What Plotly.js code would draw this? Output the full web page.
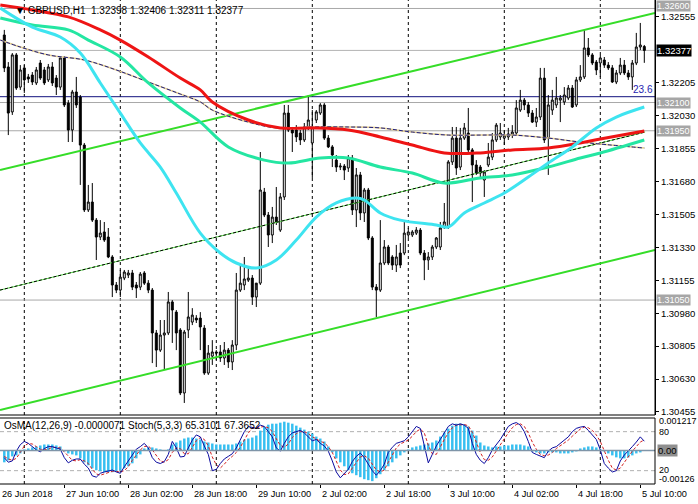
<!DOCTYPE html>
<html>
<head>
<meta charset="utf-8">
<script src="https://cdn.plot.ly/plotly-3.0.1.min.js"></script>
<style>html,body{margin:0;padding:0;background:#fff;}#chart{width:698px;height:504px;}</style>
</head>
<body>
<div id="chart"></div>
<script>
// ---- candle data (GBPUSD H1, bar 0 = 26 Jun 19:00 ... bar 160 = 5 Jul 11:00, weekend skipped)
const open = [1.32459,1.32289,1.32050,1.32353,1.32182,1.32284,1.32236,1.32246,1.32204,1.32310,
1.32273,1.32220,1.32289,1.32230,1.32182,1.32337,1.32097,1.31954,1.32156,1.32129,
1.31874,1.31529,1.31571,1.31475,1.31385,1.31412,1.31385,1.31279,1.31130,1.31103,
1.31167,1.31183,1.31194,1.31130,1.31119,1.31194,1.31140,1.31103,1.30875,1.30784,
1.30864,1.30875,1.31040,1.30986,1.30891,1.30556,1.30891,1.30933,1.30954,1.30954,
1.30901,1.30662,1.30752,1.30774,1.30774,1.30742,1.30784,1.30721,1.30811,1.31103,
1.31130,1.31156,1.31167,1.31066,1.31140,1.31624,1.31502,1.31396,1.31491,1.31422,
1.31598,1.32044,1.31954,1.31954,1.31938,1.31901,1.31970,1.31885,1.32007,1.32044,
1.32087,1.31911,1.31864,1.31794,1.31757,1.31762,1.31752,1.31805,1.31529,1.31715,
1.31513,1.31635,1.31380,1.31119,1.31103,1.31247,1.31332,1.31279,1.31236,1.31300,
1.31300,1.31396,1.31396,1.31406,1.31422,1.31300,1.31263,1.31279,1.31332,1.31332,
1.31438,1.31438,1.31784,1.31911,1.31757,1.31911,1.31938,1.31848,1.31768,1.31757,
1.31688,1.31768,1.31810,1.31901,1.31917,1.31911,1.31917,1.31927,1.31938,1.32060,
1.32113,1.32087,1.32044,1.31996,1.32023,1.32230,1.31911,1.32060,1.32087,1.32113,
1.32103,1.32124,1.32177,1.32087,1.32220,1.32236,1.32390,1.32353,1.32315,1.32310,
1.32326,1.32299,1.32284,1.32209,1.32257,1.32299,1.32257,1.32236,1.32310,1.32395,
1.32398];
const high = [1.32486,1.32315,1.32363,1.32363,1.32299,1.32299,1.32252,1.32262,1.32289,1.32326,
1.32289,1.32305,1.32315,1.32246,1.32347,1.32347,1.32113,1.32167,1.32236,1.32140,
1.31885,1.31662,1.31672,1.31486,1.31475,1.31465,1.31433,1.31289,1.31146,1.31210,
1.31210,1.31210,1.31210,1.31146,1.31199,1.31204,1.31156,1.31114,1.30891,1.30944,
1.30944,1.31093,1.31050,1.30997,1.30901,1.30891,1.31093,1.31007,1.30970,1.30986,
1.30917,1.30811,1.30837,1.30784,1.30811,1.30827,1.30795,1.30837,1.31194,1.31236,
1.31279,1.31220,1.31183,1.31103,1.31837,1.31646,1.31518,1.31545,1.31651,1.31619,
1.32087,1.32087,1.31970,1.31980,1.31954,1.31991,1.32140,1.32060,1.32060,1.32097,
1.32097,1.31927,1.31874,1.31821,1.31778,1.31773,1.31821,1.31821,1.31752,1.31731,
1.31646,1.31646,1.31390,1.31135,1.31475,1.31369,1.31343,1.31289,1.31343,1.31353,
1.31465,1.31433,1.31422,1.31438,1.31433,1.31316,1.31305,1.31343,1.31385,1.31465,
1.31566,1.31794,1.31970,1.31970,1.31965,1.31991,1.32071,1.31858,1.31794,1.31768,
1.31741,1.31885,1.31938,1.31991,1.31991,1.31954,1.31965,1.31980,1.32113,1.32167,
1.32124,1.32103,1.32060,1.32071,1.32284,1.32284,1.32140,1.32167,1.32236,1.32140,
1.32182,1.32193,1.32193,1.32236,1.32299,1.32486,1.32443,1.32363,1.32326,1.32353,
1.32342,1.32315,1.32299,1.32273,1.32337,1.32326,1.32273,1.32326,1.32470,1.32523,
1.32406];
const low = [1.32262,1.31927,1.32034,1.32167,1.32167,1.32151,1.32204,1.32193,1.32193,1.32220,
1.32193,1.32209,1.32188,1.32140,1.32167,1.32076,1.31890,1.31890,1.32071,1.31662,
1.31518,1.31518,1.31465,1.31263,1.31369,1.31359,1.31273,1.31066,1.31087,1.31066,
1.31156,1.31167,1.31103,1.31061,1.31103,1.31130,1.31087,1.30715,1.30694,1.30774,
1.30678,1.30864,1.30822,1.30784,1.30545,1.30503,1.30848,1.30917,1.30928,1.30784,
1.30652,1.30652,1.30705,1.30731,1.30721,1.30705,1.30689,1.30678,1.30784,1.31093,
1.31103,1.31146,1.31024,1.31013,1.31130,1.31491,1.31332,1.31353,1.31449,1.31412,
1.31582,1.31943,1.31837,1.31890,1.31874,1.31890,1.31954,1.31699,1.31991,1.32034,
1.31901,1.31858,1.31757,1.31731,1.31741,1.31688,1.31731,1.31502,1.31438,1.31475,
1.31465,1.31369,1.31103,1.30960,1.31093,1.31236,1.31236,1.31210,1.31199,1.31220,
1.31289,1.31380,1.31385,1.31396,1.31289,1.31156,1.31210,1.31263,1.31321,1.31316,
1.31428,1.31428,1.31768,1.31715,1.31741,1.31901,1.31837,1.31571,1.31715,1.31704,
1.31598,1.31757,1.31794,1.31890,1.31901,1.31874,1.31901,1.31911,1.31927,1.32050,
1.32060,1.32023,1.31991,1.31970,1.32007,1.31885,1.31715,1.32034,1.32071,1.31996,
1.32087,1.32113,1.32071,1.32076,1.32209,1.32225,1.32342,1.32299,1.32246,1.32236,
1.32284,1.32273,1.32204,1.32198,1.32246,1.32246,1.32220,1.32167,1.32299,1.32379,
1.32311];
const close = [1.32284,1.32044,1.32353,1.32177,1.32273,1.32220,1.32225,1.32209,1.32273,1.32230,
1.32204,1.32289,1.32204,1.32182,1.32337,1.32087,1.31954,1.32156,1.32087,1.31874,
1.31529,1.31571,1.31475,1.31385,1.31406,1.31369,1.31279,1.31130,1.31103,1.31172,
1.31199,1.31194,1.31119,1.31114,1.31188,1.31140,1.31103,1.30875,1.30784,1.30864,
1.30875,1.31040,1.30997,1.30875,1.30556,1.30880,1.30960,1.30970,1.30944,1.30907,
1.30662,1.30768,1.30774,1.30768,1.30742,1.30784,1.30721,1.30811,1.31103,1.31140,
1.31162,1.31167,1.31066,1.31140,1.31635,1.31502,1.31396,1.31491,1.31465,1.31598,
1.32044,1.31954,1.31938,1.31917,1.31901,1.31970,1.32007,1.31970,1.32050,1.32087,
1.31911,1.31864,1.31821,1.31757,1.31762,1.31741,1.31805,1.31529,1.31715,1.31513,
1.31635,1.31380,1.31119,1.31103,1.31247,1.31332,1.31247,1.31236,1.31279,1.31236,
1.31406,1.31412,1.31412,1.31422,1.31300,1.31263,1.31279,1.31332,1.31380,1.31433,
1.31465,1.31784,1.31911,1.31752,1.31911,1.31965,1.31848,1.31768,1.31725,1.31725,
1.31731,1.31810,1.31901,1.31980,1.31938,1.31927,1.31933,1.31943,1.32071,1.32113,
1.32087,1.32044,1.31996,1.32023,1.32230,1.31901,1.32087,1.32113,1.32124,1.32124,
1.32140,1.32177,1.32076,1.32220,1.32236,1.32390,1.32353,1.32310,1.32273,1.32337,
1.32299,1.32284,1.32209,1.32257,1.32299,1.32257,1.32236,1.32310,1.32395,1.32406,
1.32377];

// ---- moving averages read at sample bars
const maRedX   = [-1,7,16,24,29,36,44,49,52,61,69,77,86,94,102,110,119,127,136,144,149,160];
const maRedY   = [1.32618,1.32592,1.32555,1.32486,1.32432,1.32342,1.32230,1.32167,1.32103,1.32007,1.31965,1.31965,1.31954,1.31917,1.31874,1.31832,1.31832,1.31848,1.31858,1.31885,1.31906,1.31949];
const maGreenX = [-1,7,16,21,29,36,44,49,56,65,71,79,86,94,102,110,119,127,136,144,149,160];
const maGreenY = [1.32549,1.32512,1.32486,1.32432,1.32342,1.32204,1.32071,1.31996,1.31864,1.31794,1.31778,1.31805,1.31805,1.31757,1.31725,1.31672,1.31699,1.31715,1.31757,1.31805,1.31832,1.31901];
const maCyanX  = [-1,7,14,19,24,29,34,39,43,49,54,58,63,68,73,78,83,88,90,94,99,108,111,115,120,125,131,136,142,148,153,160];
const maCyanY  = [1.32602,1.32501,1.32448,1.32363,1.32204,1.32044,1.31885,1.31757,1.31619,1.31406,1.31300,1.31247,1.31220,1.31263,1.31369,1.31491,1.31566,1.31592,1.31582,1.31513,1.31475,1.31449,1.31438,1.31513,1.31566,1.31619,1.31704,1.31778,1.31864,1.31965,1.32023,1.32076];
const maSlowX  = [-1,4,11,20,28,36,44,49,52,61,68,77,86,94,102,111,119,127,136,144,160];
const maSlowY  = [1.32432,1.32395,1.32353,1.32326,1.32273,1.32209,1.32145,1.32103,1.32060,1.31996,1.31965,1.31970,1.31970,1.31965,1.31943,1.31927,1.31927,1.31927,1.31911,1.31890,1.31858];

// ---- channel lines (end points)
const chanX     = [-1.075, 162.675];
const chanUpper = [1.31741, 1.32576];
const chanLower = [1.30465, 1.31316];
const chanMidX  = [-1.075, 160.2];
const chanMid   = [1.31103, 1.31943];

// ---- horizontal levels
const grayLevels = [1.32600, 1.32100, 1.31950, 1.31050];
const fibLevel = 1.32131;
const lastPrice = 1.32377;

// ---- price axis ticks
const priceTicks = [1.30455,1.30630,1.30805,1.30980,1.31155,1.31330,1.31505,1.31680,1.31855,1.32030,1.32205,1.32555];

// ---- time axis
const dayStarts = [5,29,53,77,101,125,149];
const timeTickBars = [-1.075,15,31,47,63,79,95,111,127,143,159];
const timeTickText = ["26 Jun 2018","27 Jun 10:00","28 Jun 02:00","28 Jun 18:00","29 Jun 10:00","2 Jul 02:00","2 Jul 18:00","3 Jul 10:00","4 Jul 02:00","4 Jul 18:00","5 Jul 10:00"];

// ---- oscillators
const osma = [-0.000446,-0.000372,-0.000223,-0.000186,-0.000112,0.000037,0.000074,0.000112,0.000149,0.000186,
0.000223,0.000223,0.000223,0.000186,0.000149,-0.000037,-0.000112,-0.000149,-0.000186,-0.000298,
-0.000446,-0.000558,-0.00067,-0.000744,-0.000781,-0.000818,-0.000818,-0.000818,-0.000781,-0.000744,
-0.00067,-0.000595,-0.000484,-0.000298,-0.000149,0.000074,0.000112,0.000112,0.000074,0.000037,
0.000005,0.000037,0.000223,0.000298,0.000372,0.000446,0.000484,0.000484,0.000446,0.000409,
0.000335,0.000298,0.00026,0.000223,0.000223,0.000223,0.000223,0.000223,0.00026,0.000335,
0.000409,0.000446,0.000484,0.000558,0.000744,0.000893,0.000967,0.001004,0.001004,0.001042,
0.001079,0.001042,0.001004,0.00093,0.000856,0.000781,0.000707,0.000632,0.000521,0.000446,
0.000335,0.000149,-0.000074,-0.000298,-0.000446,-0.000595,-0.000744,-0.000856,-0.00093,-0.001004,
-0.001079,-0.001116,-0.001153,-0.001042,-0.000893,-0.000744,-0.000595,-0.000446,-0.000298,-0.000186,
-0.000074,0.000037,0.000112,0.000149,0.000186,0.000223,0.00026,0.000298,0.000372,0.000521,
0.00067,0.000818,0.00093,0.001004,0.001004,0.000967,0.000893,0.000744,0.000558,0.000298,
0.000186,0.000149,0.000112,0.000149,0.000149,0.000186,0.000186,0.000223,0.000223,0.000223,
0.000186,0.000149,-0.000037,-0.000074,-0.000112,-0.000112,-0.000074,-0.000074,-0.000074,-0.000112,
-0.000112,-0.000112,-0.000074,-0.000037,0.000074,0.000112,0.000149,0.000149,0.000112,0.000037,
-0.000037,-0.000112,-0.000186,-0.00026,-0.000298,-0.000298,-0.00026,-0.000186,-0.000112,-0.000074,
-0.0000071];
const stochMain = [40,33,35,50,60,65,62,57,52,49,54,57,57,55,53,40,32,36,38,38,
30,24,12,10,16,18,19,21,18,16,26,35,46,53,57,62,55,40,33,31,
34,45,65,55,41,42,55,67,75,72,58,45,20,22,31,38,42,46,55,67,
80,88,86,85,90,88,80,72,55,50,62,72,78,80,82,78,72,66,68,62,
58,50,35,18,9,15,22,34,42,47,40,30,20,13,20,30,48,56,62,64,
66,72,80,88,85,60,32,45,58,68,78,88,92,90,92,90,85,62,45,36,
31,40,52,60,68,78,88,92,94,90,80,65,48,45,43,40,50,55,57,62,
66,72,80,85,87,88,82,75,68,52,31,24,18,20,35,44,50,57,64,72,
65.31];
const stochSignal = [42,38,36,39,48,58,62,61,57,53,52,53,56,56,55,49,42,36,35,37,
35,31,22,15,13,15,18,19,19,18,20,26,36,45,52,57,58,52,43,35,
33,37,48,55,54,46,46,55,66,71,68,58,41,29,24,30,37,42,48,56,
67,78,85,86,87,88,86,80,69,59,56,61,71,77,80,80,77,72,69,65,
63,57,48,34,21,14,15,24,33,41,43,39,30,21,18,21,33,45,55,61,
64,67,73,80,84,78,59,46,45,57,68,78,86,90,91,91,89,79,64,48,
37,36,41,51,60,69,78,86,91,92,88,78,64,53,45,43,44,48,54,58,
62,67,73,79,84,87,86,82,75,65,50,36,24,21,24,33,43,50,57,64,
67.37];

const idx = open.map((_, k) => k);

// ---- geometry (paper fractions)
const W = 698, H = 504;
const xr = 655 / W;
const mainDom = [1 - 415 / H, 1];
const oscDom = [1 - 484 / H, 1 - 418 / H];
const FONT = "Liberation Sans, Arial, sans-serif";

const traces = [];
traces.push({x: chanX, y: chanUpper, mode: 'lines', line: {color: '#35dd28', width: 2}, xaxis: 'x', yaxis: 'y', hoverinfo: 'skip'});
traces.push({x: chanX, y: chanLower, mode: 'lines', line: {color: '#35dd28', width: 2}, xaxis: 'x', yaxis: 'y', hoverinfo: 'skip'});
traces.push({x: chanMidX, y: chanMid, mode: 'lines', line: {color: '#55dd44', width: 1}, xaxis: 'x', yaxis: 'y', hoverinfo: 'skip'});
traces.push({x: chanMidX, y: chanMid, mode: 'lines', line: {color: '#000000', width: 1, dash: '3px,2px'}, xaxis: 'x', yaxis: 'y', hoverinfo: 'skip'});
traces.push({
  type: 'candlestick', x: idx, open: open, high: high, low: low, close: close,
  xaxis: 'x', yaxis: 'y', whiskerwidth: 0, hoverinfo: 'skip',
  increasing: {line: {color: '#000000', width: 1}, fillcolor: '#ffffff'},
  decreasing: {line: {color: '#000000', width: 1}, fillcolor: '#000000'}
});
traces.push({x: maSlowX, y: maSlowY, mode: 'lines', line: {color: '#e6cf8e', width: 1.5, shape: 'spline'}, xaxis: 'x', yaxis: 'y', hoverinfo: 'skip'});
traces.push({x: maSlowX, y: maSlowY, mode: 'lines', line: {color: '#1c1c80', width: 1, dash: '4px,2px', shape: 'spline'}, xaxis: 'x', yaxis: 'y', hoverinfo: 'skip'});
traces.push({x: maGreenX, y: maGreenY, mode: 'lines', line: {color: '#24e6a2', width: 3, shape: 'spline'}, xaxis: 'x', yaxis: 'y', hoverinfo: 'skip'});
traces.push({x: maRedX, y: maRedY, mode: 'lines', line: {color: '#ee1414', width: 3, shape: 'spline'}, xaxis: 'x', yaxis: 'y', hoverinfo: 'skip'});
traces.push({x: maCyanX, y: maCyanY, mode: 'lines', line: {color: '#3ee4f0', width: 3, shape: 'spline'}, xaxis: 'x', yaxis: 'y', hoverinfo: 'skip'});
traces.push({type: 'bar', x: idx, y: osma, marker: {color: '#36bff0', line: {width: 0}}, width: 0.62, xaxis: 'x', yaxis: 'y2', hoverinfo: 'skip'});
traces.push({x: idx, y: stochSignal, mode: 'lines', line: {color: '#d42020', width: 1, dash: '3px,2px'}, xaxis: 'x', yaxis: 'y3', hoverinfo: 'skip'});
traces.push({x: idx, y: stochMain, mode: 'lines', line: {color: '#0a0aa0', width: 1}, xaxis: 'x', yaxis: 'y3', hoverinfo: 'skip'});

const shapes = [];
dayStarts.forEach(d => {
  [mainDom, oscDom].forEach(dom => {
    shapes.push({type: 'line', xref: 'x', yref: 'paper', x0: d, x1: d, y0: dom[0], y1: dom[1], line: {color: '#000', width: 1, dash: '3px,3px'}, layer: 'below'});
  });
});
grayLevels.forEach(v => shapes.push({type: 'line', xref: 'paper', yref: 'y', x0: 0, x1: xr, y0: v, y1: v, line: {color: '#a8a8a8', width: 1}, layer: 'below'}));
shapes.push({type: 'line', xref: 'paper', yref: 'y', x0: 0, x1: xr, y0: lastPrice, y1: lastPrice, line: {color: '#b4b4b4', width: 1}, layer: 'below'});
shapes.push({type: 'line', xref: 'paper', yref: 'y', x0: 0, x1: xr, y0: fibLevel, y1: fibLevel, line: {color: '#12127e', width: 1}, layer: 'below'});
shapes.push({type: 'line', xref: 'paper', yref: 'y3', x0: 0, x1: xr, y0: 80, y1: 80, line: {color: '#b0b0b0', width: 1, dash: '4px,3px'}, layer: 'below'});
shapes.push({type: 'line', xref: 'paper', yref: 'y3', x0: 0, x1: xr, y0: 20, y1: 20, line: {color: '#b0b0b0', width: 1, dash: '4px,3px'}, layer: 'below'});
shapes.push({type: 'line', xref: 'paper', yref: 'y2', x0: 0, x1: xr, y0: 0, y1: 0, line: {color: '#7f95a8', width: 1.5}, layer: 'above'});
shapes.push({type: 'rect', xref: 'paper', yref: 'paper', x0: -0.01, x1: xr, y0: mainDom[0], y1: 1.01, line: {color: '#000', width: 1}, fillcolor: 'rgba(0,0,0,0)'});
shapes.push({type: 'rect', xref: 'paper', yref: 'paper', x0: -0.01, x1: xr, y0: oscDom[0], y1: oscDom[1], line: {color: '#000', width: 1}, fillcolor: 'rgba(0,0,0,0)'});

const annotations = [];
const lblX = 656 / W;
grayLevels.forEach(v => annotations.push({xref: 'paper', yref: 'y', x: lblX, y: v, xanchor: 'left', yanchor: 'middle', yshift: (v === 1.326 ? 2 : 0), text: v.toFixed(5), showarrow: false, bgcolor: '#a6a6a6', borderpad: 0, font: {family: FONT, size: 9, color: '#ffffff'}}));
annotations.push({xref: 'paper', yref: 'y', x: lblX, y: lastPrice, xanchor: 'left', yanchor: 'middle', text: lastPrice.toFixed(5), showarrow: false, bgcolor: '#000000', borderpad: 0, font: {family: FONT, size: 9.5, color: '#ffffff'}});
annotations.push({xref: 'paper', yref: 'y', x: xr, y: fibLevel, xanchor: 'right', yanchor: 'bottom', text: '23.6', showarrow: false, font: {family: FONT, size: 10, color: '#2424b0'}});
annotations.push({xref: 'paper', yref: 'paper', x: 13 / W, y: 1 - 10 / H, xanchor: 'left', yanchor: 'middle', text: '\u25BC GBPUSD,H1\u00a0\u00a01.32398 1.32406 1.32311 1.32377', showarrow: false, font: {family: FONT, size: 10, color: '#000'}});
annotations.push({xref: 'paper', yref: 'paper', x: 2 / W, y: 1 - 425 / H, xanchor: 'left', yanchor: 'middle', text: 'OsMA(12,26,9) -0.0000071 Stoch(5,3,3) 65.3101 67.3652', showarrow: false, font: {family: FONT, size: 10, color: '#000'}});
const oscLbl = [['0.001217', 421], ['80', 432], ['20', 470], ['-0.00126', 479]];
oscLbl.forEach(o => annotations.push({xref: 'paper', yref: 'paper', x: 657 / W, y: 1 - o[1] / H, xanchor: 'left', yanchor: 'middle', text: o[0], showarrow: false, font: {family: FONT, size: 9, color: '#000'}}));
annotations.push({xref: 'paper', yref: 'paper', x: 657 / W, y: 1 - 450 / H, xanchor: 'left', yanchor: 'middle', text: '0.00', showarrow: false, bgcolor: '#8f8f8f', borderpad: 0, font: {family: FONT, size: 9.5, color: '#000'}});
timeTickBars.forEach((b, k) => annotations.push({xref: 'x', yref: 'paper', x: b, y: 1 - 494 / H, xanchor: 'left', yanchor: 'middle', text: timeTickText[k], showarrow: false, font: {family: FONT, size: 9.2, color: '#000'}}));

const layout = {
  width: W, height: H,
  margin: {l: 0, r: 0, t: 0, b: 0},
  paper_bgcolor: '#ffffff', plot_bgcolor: '#ffffff',
  showlegend: false,
  font: {family: FONT, size: 10, color: '#000'},
  xaxis: {domain: [0, xr], range: [-1.075, 162.675], anchor: 'y2', showgrid: false, zeroline: false,
    showticklabels: false, ticks: 'outside', ticklen: 3, tickcolor: '#000', tickvals: timeTickBars.slice(1),
    rangeslider: {visible: false}, fixedrange: true, showline: false},
  yaxis: {domain: mainDom, range: [1.30439, 1.32645], side: 'right', anchor: 'x', showgrid: false, zeroline: false,
    tickvals: priceTicks, ticktext: priceTicks.map(v => v.toFixed(5)), ticks: 'outside', ticklen: 3, tickcolor: '#000',
    showline: true, linecolor: '#000', linewidth: 1, tickfont: {family: FONT, size: 9.5, color: '#000'}, fixedrange: true},
  yaxis2: {domain: oscDom, range: [-0.00126, 0.001217], anchor: 'x', visible: false, fixedrange: true},
  yaxis3: {domain: oscDom, range: [-0.5, 101], overlaying: 'y2', anchor: 'x', visible: false, fixedrange: true},
  bargap: 0.3,
  shapes: shapes,
  annotations: annotations
};

Plotly.newPlot('chart', traces, layout, {staticPlot: true, displayModeBar: false});
</script>
</body>
</html>
